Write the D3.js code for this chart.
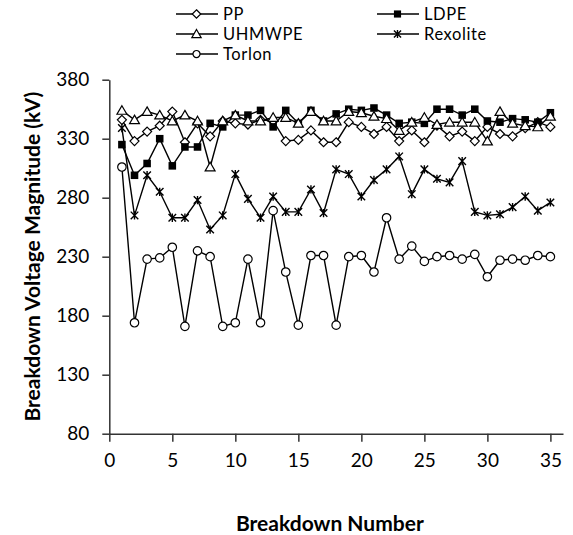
<!DOCTYPE html>
<html>
<head>
<meta charset="utf-8">
<script src="https://cdn.jsdelivr.net/npm/d3@7"></script>
<style>
  html, body { margin: 0; padding: 0; background: #ffffff; }
  svg { display: block; }
  text { font-family: Lato, "Open Sans", sans-serif; fill: #000; }
</style>
</head>
<body>
<svg id="chart" width="573" height="535"></svg>
<script>
// ---------- data ----------
const breakdownNumbers = d3.range(1, 36);
const ppValues = [346, 328, 336, 341, 353, 327, 343, 332, 345, 343, 342, 346, 345, 328, 329, 337, 327, 327, 344, 340,
                  334, 340, 328, 337, 327, 341, 332, 336, 328, 340, 334, 332, 339, 344, 340];
const ldpeValues = [325, 299, 309, 330, 307, 323, 323, 343, 340, 350, 350, 354, 340, 354, 343, 354, 345, 351, 355, 354,
                    356, 350, 343, 344, 343, 355, 355, 350, 355, 345, 344, 347, 346, 344, 352];
const uhmwpeValues = [354, 346, 353, 350, 345, 350, 345, 306, 345, 350, 345, 345, 348, 348, 343, 353, 345, 345, 353, 352,
                      349, 347, 337, 344, 348, 342, 344, 344, 344, 328, 353, 343, 341, 340, 349];
const rexoliteValues = [339, 265, 299, 285, 263, 263, 278, 253, 265, 300, 279, 263, 281, 268, 268, 287, 267, 304, 300, 281,
                        295, 304, 315, 283, 304, 296, 293, 311, 268, 265, 266, 272, 281, 269, 276];
const torlonValues = [306, 174, 228, 229, 238, 171, 235, 230, 171, 174, 228, 174, 269, 217, 172, 231, 231, 172, 230, 231,
                      217, 263, 228, 239, 226, 230, 231, 228, 232, 213, 227, 228, 227, 231, 230];
const xTickValues = [0, 5, 10, 15, 20, 25, 30, 35];
const yTickValues = [80, 130, 180, 230, 280, 330, 380];
const seriesNames = ["PP", "LDPE", "UHMWPE", "Rexolite", "Torlon"];
const seriesMarkers = ["diamond", "square", "triangle", "asterisk", "circle"];
const xTitle = "Breakdown Number";
const yTitle = "Breakdown Voltage Magnitude (kV)";

const seriesValues = [ppValues, ldpeValues, uhmwpeValues, rexoliteValues, torlonValues];
const series = seriesNames.map((name, i) => ({
  name, marker: seriesMarkers[i],
  points: breakdownNumbers.map((n, j) => ({ n, v: seriesValues[i][j] }))
}));

// ---------- layout ----------
const svg = d3.select("#chart");
const x = d3.scaleLinear().domain([0, 36]).range([109.3, 563]);
const y = d3.scaleLinear().domain([80, 380]).range([433.7, 79.7]);
const axisColor = "#333";

// ---------- markers ----------
function drawMarker(g, type, size) {
  const s = size;
  if (type === "diamond") {
    g.append("path").attr("d", `M0,${-s/2}L${s/2},0L0,${s/2}L${-s/2},0Z`)
      .attr("fill", "#fff").attr("stroke", "#000").attr("stroke-width", 1.2);
  } else if (type === "square") {
    g.append("rect").attr("x", -s*0.42).attr("y", -s*0.42).attr("width", s*0.84).attr("height", s*0.84)
      .attr("fill", "#000");
  } else if (type === "triangle") {
    const h = s * 0.95;
    g.append("path").attr("d", `M0,${-h*0.55}L${s*0.55},${h*0.45}L${-s*0.55},${h*0.45}Z`)
      .attr("fill", "#fff").attr("stroke", "#000").attr("stroke-width", 1.2);
  } else if (type === "circle") {
    g.append("circle").attr("r", s*0.47)
      .attr("fill", "#fff").attr("stroke", "#000").attr("stroke-width", 1.2);
  } else if (type === "asterisk") {
    const r = s*0.42;
    g.append("path")
      .attr("d", `M${-r},${-r}L${r},${r}M${-r},${r}L${r},${-r}M0,${-r*1.1}L0,${r*1.1}`)
      .attr("stroke", "#000").attr("stroke-width", 1.4).attr("fill", "none");
  }
}

// ---------- axes ----------
const xAxis = d3.axisBottom(x).tickValues(xTickValues).tickSize(8).tickSizeOuter(0).tickPadding(12)
  .tickFormat(d3.format("d"));
const gx = svg.append("g").attr("transform", `translate(0,${y(80)})`).call(xAxis);
gx.select(".domain").attr("stroke", axisColor).attr("stroke-width", 1.5);
gx.selectAll(".tick line").attr("stroke", axisColor).attr("stroke-width", 1.5);
gx.selectAll(".tick text").style("font-size", "19px").attr("fill", "#000");

const yAxis = d3.axisLeft(y).tickValues(yTickValues).tickSize(7).tickSizeOuter(0).tickPadding(13)
  .tickFormat(d3.format("d"));
const gy = svg.append("g").attr("transform", `translate(${x(0)},0)`).call(yAxis);
gy.select(".domain").attr("stroke", axisColor).attr("stroke-width", 1.5);
gy.selectAll(".tick line").attr("stroke", axisColor).attr("stroke-width", 1.5);
gy.selectAll(".tick text").style("font-size", "19px").attr("fill", "#000");

// ---------- series ----------
const line = d3.line().x(d => x(d.n)).y(d => y(d.v));
series.forEach(s => {
  const g = svg.append("g");
  g.append("path").datum(s.points).attr("d", line)
    .attr("fill", "none").attr("stroke", "#000").attr("stroke-width", 1.4);
  g.selectAll("g.pt").data(s.points).join("g").attr("class", "pt")
    .attr("transform", d => `translate(${x(d.n)},${y(d.v)})`)
    .each(function() { drawMarker(d3.select(this), s.marker, 9); });
});

// ---------- legend ----------
const legendCols = [176, 377];
const legendRows = [14, 34, 54];
series.forEach((s, i) => {
  const col = i % 2, row = Math.floor(i / 2);
  const lx = legendCols[col], ly = legendRows[row];
  const lg = svg.append("g").attr("transform", `translate(${lx},${ly})`);
  lg.append("line").attr("x1", 0).attr("x2", 42).attr("y1", 0).attr("y2", 0)
    .attr("stroke", "#000").attr("stroke-width", 1.4);
  const mg = lg.append("g").attr("transform", "translate(20.5,0)");
  drawMarker(mg, s.marker, s.marker === "circle" ? 7.5 : 8.5);
  lg.append("text").attr("x", 47).attr("y", 0).attr("dy", "0.35em")
    .style("font-size", "16.5px").style("letter-spacing", "0.6px").text(s.name);
});

// ---------- titles ----------
svg.append("text").attr("x", (x(0) + x(35)) / 2).attr("y", 531)
  .attr("text-anchor", "middle").style("font-size", "21px").style("font-weight", "bold").text(xTitle);
svg.append("text").attr("transform", `translate(40,${(y(80) + y(380)) / 2}) rotate(-90)`)
  .attr("text-anchor", "middle").style("font-size", "21px").style("font-weight", "bold").text(yTitle);
</script>
</body>
</html>
